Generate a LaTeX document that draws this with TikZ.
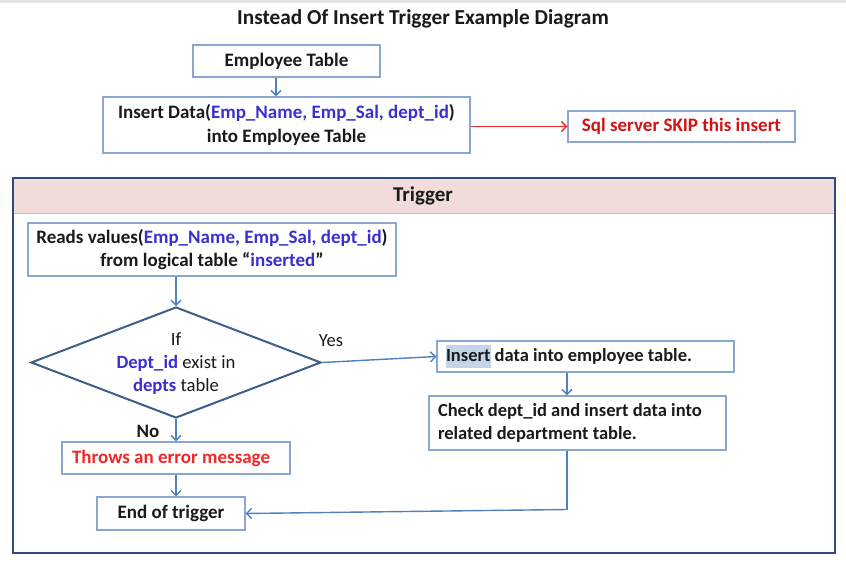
\documentclass[tikz,border=0pt]{standalone}
\usepackage{fontspec}
\setmainfont{Carlito}
\usetikzlibrary{arrows.meta,shapes.geometric}
\definecolor{boxblue}{HTML}{8BA7CF}
\definecolor{arrblue}{HTML}{4F81BD}
\definecolor{txtblue}{HTML}{3B2FCF}
\definecolor{txtred}{HTML}{F02828}
\definecolor{skipred}{HTML}{D01414}
\definecolor{frameblue}{HTML}{2F4B7C}
\definecolor{pinkband}{HTML}{F2DCDB}
\definecolor{diaborder}{HTML}{3F5F86}
\definecolor{hilite}{HTML}{C5D5E8}
\definecolor{ink}{HTML}{1A1A1A}
\newcommand{\bl}[1]{\textcolor{txtblue}{#1}}
\tikzset{
  box/.style={draw=boxblue, line width=1.2pt, fill=white, align=center, inner sep=0pt, text=ink},
  lbox/.style={box, align=flush left, inner xsep=9pt},
  arr/.style={draw=arrblue, line width=1.4pt, -{Straight Barb[length=5pt,width=10pt]}},
  redarr/.style={draw=txtred, line width=1.4pt, -{Straight Barb[length=5pt,width=10pt]}},
  plain/.style={draw=arrblue, line width=1.4pt},
  lbl/.style={inner sep=0pt, text=ink}
}
\begin{document}
\begin{tikzpicture}[x=1pt,y=-1pt, font=\fontsize{19}{23.5}\selectfont\bfseries]
\useasboundingbox (0,0) rectangle (846,570);
\fill[white] (0,0) rectangle (846,570);
\fill[black!10] (0,0) rectangle (846,3);

\node[lbl, font=\fontsize{21.3}{25}\selectfont\bfseries] (title) at (423,19) {Instead Of Insert Trigger Example Diagram};

\node[box, minimum width=187pt, minimum height=32pt] (emp) at (286.5,61) {Employee Table};
\node[box, minimum width=367pt, minimum height=56pt] (ins) at (286.5,125)
  {Insert Data(\bl{Emp\_Name, Emp\_Sal, dept\_id})\\into Employee Table};
\node[box, minimum width=227pt, minimum height=31pt, text=skipred] (skip) at (681.5,126.5) {Sql server SKIP this insert};

\draw[arr] ([xshift=-10.5pt]emp.south) -- ([xshift=-10.5pt]ins.north);
\draw[redarr] (ins.east |- skip.west) -- (skip.west);

% Trigger frame
\node[draw=frameblue, line width=2pt, minimum width=822pt, minimum height=375pt, inner sep=0pt] (frame) at (424,365.5) {};
\fill[pinkband] (14,179) rectangle (834,213);
\draw[boxblue!70, line width=0.6pt] (14,213) -- (834,213);
\node[lbl, font=\fontsize{21}{25}\selectfont\bfseries] (trig) at (423,196) {Trigger};

\node[box, minimum width=368pt, minimum height=53pt] (reads) at (212,249.5)
  {Reads values(\bl{Emp\_Name, Emp\_Sal, dept\_id})\\from logical table “\bl{inserted}”};

\node[draw=diaborder, line width=2pt, shape=diamond, minimum width=290pt, minimum height=111pt, inner sep=0pt] (dia) at (176,362.5) {};
\node[lbl, align=center, font=\fontsize{18.7}{23}\selectfont\mdseries] (diatext) at (176,364)
  {If\\\textbf{\bl{Dept\_id}} exist in\\\textbf{\bl{depts}} table};
\node[lbl, font=\fontsize{18.5}{23}\selectfont\mdseries] (yes) at (331,341) {Yes};
\node[lbl] (no) at (148,431) {No};

\node[lbox, minimum width=297pt, minimum height=31pt, text width=279pt, font=\fontsize{18.5}{23.5}\selectfont\bfseries] (insemp) at (585.5,356.5)
  {{\setlength{\fboxsep}{0pt}\colorbox{hilite}{\strut Insert}} data into employee table.};
\node[lbox, minimum width=297pt, minimum height=54pt, text width=279pt, font=\fontsize{18.5}{23.5}\selectfont\bfseries] (chk) at (577.5,423)
  {Check dept\_id and insert data into\\related department table.};
\node[lbox, minimum width=228pt, minimum height=32pt, text width=208pt, inner xsep=10pt, text=txtred] (err) at (176,458) {Throws an error message};
\node[box, minimum width=148pt, minimum height=33pt] (endt) at (171,513.5) {End of trigger};

\draw[arr] (dia.north |- reads.south) -- (dia.north);
\draw[arr] (dia.east) -- (insemp.west);
\draw[arr] ([xshift=-18.5pt]insemp.south) -- ([xshift=-18.5pt]insemp.south |- chk.north);
\coordinate (turn) at ([xshift=-10.5pt]chk.south |- endt.east);
\draw[plain] ([xshift=-10.5pt]chk.south) -- ([yshift=4pt]turn);
\draw[arr] ([yshift=4pt]turn) -- (endt.east);
\draw[arr] (dia.south) -- (err.north);
\draw[arr] (err.south) -- (err.south |- endt.north);
\end{tikzpicture}
\end{document}
